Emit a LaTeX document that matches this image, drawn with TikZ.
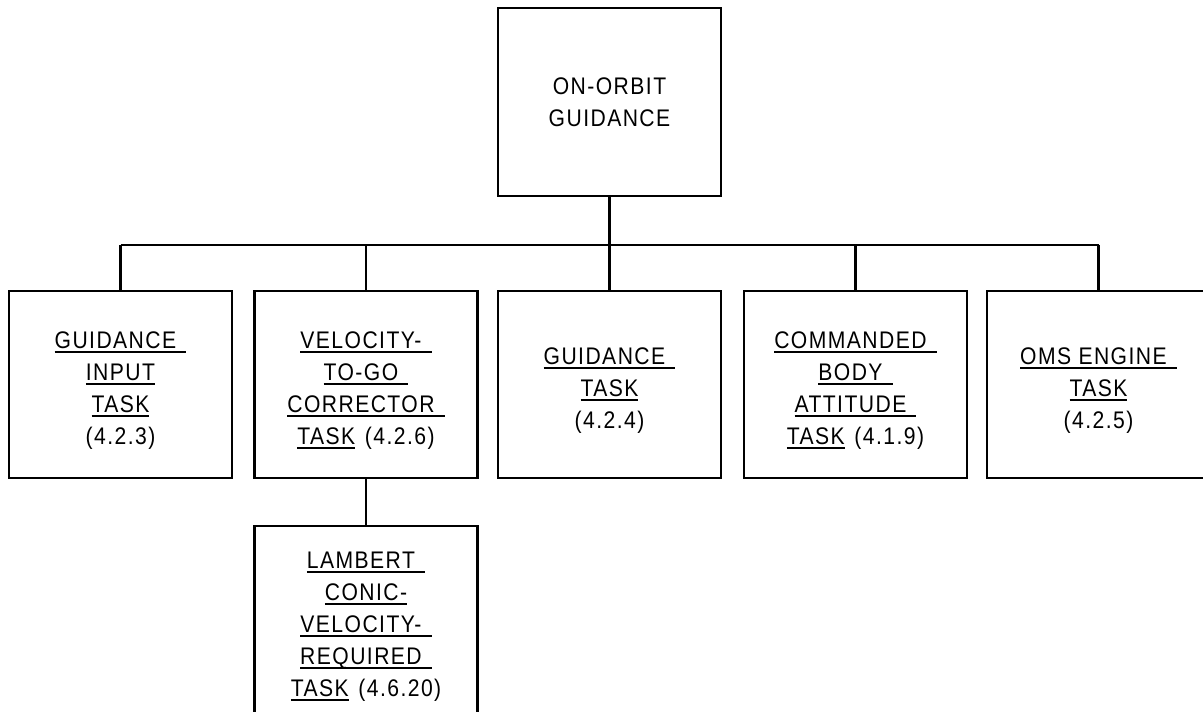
\documentclass[tikz,border=0pt]{standalone}
\usepackage{fontspec}
\setmainfont{Liberation Sans}[FakeStretch=0.88,LetterSpace=6]
\newcommand\ulw[1]{\leavevmode\setbox0\hbox{#1}\rlap{\rule[-4.9pt]{\wd0}{1.8pt}}\box0\relax}
\newcommand\tsp{\hspace{0.42em}}
\newcommand\fl{\rule{0pt}{28pt}}
\begin{document}
\begin{tikzpicture}[x=1pt,y=-1pt,
  box/.style={draw,line width=2.2pt,minimum width=223pt,minimum height=187pt,inner sep=0pt,
    align=center,font=\fontsize{24}{32}\selectfont},
  link/.style={line width=2.2pt}]
\useasboundingbox (0,0) rectangle (1203,712);
\clip (0,0) rectangle (1203,712);
\node[box,minimum height=188pt] (top) at (609.5,102) {ON-ORBIT\\GUIDANCE};
\node[box] (b1) at (120.5,384.5) {\fl\ulw{GUIDANCE\tsp}\\\ulw{INPUT}\\\ulw{TASK}\\(4.2.3)};
\node[box] (b2) at (366,384.5) {\fl\ulw{VELOCITY-\tsp}\\\ulw{TO-GO\tsp}\\\ulw{CORRECTOR\tsp}\\\ulw{TASK}\hspace{0.1em} (4.2.6)};
\node[box] (b3) at (609.5,384.5) {\fl\ulw{GUIDANCE\tsp}\\\ulw{TASK}\\(4.2.4)};
\node[box] (b4) at (855.5,384.5) {\fl\ulw{COMMANDED\tsp}\\\ulw{BODY\tsp}\\\ulw{ATTITUDE\tsp}\\\ulw{TASK}\hspace{0.1em} (4.1.9)};
\node[box] (b5) at (1098.5,384.5) {\fl\ulw{OMS ENGINE\tsp}\\\ulw{TASK}\\(4.2.5)};
\node[box,minimum height=189pt] (lam) at (366,620.5) {\fl\ulw{LAMBERT\tsp}\\\ulw{CONIC-}\\\ulw{VELOCITY-\tsp}\\\ulw{REQUIRED\tsp}\\\ulw{TASK}\hspace{0.1em} (4.6.20)};
\coordinate (bus) at (609.5,245);
\draw[link] (top.south) -- (b3.north);
\draw[link] (b1.north |- bus) -- (b5.north |- bus);
\foreach \n in {b1,b2,b4,b5} \draw[link] (\n.north) -- (\n.north |- bus);
\draw[link] (b2.south) -- (lam.north);
\end{tikzpicture}
\end{document}
